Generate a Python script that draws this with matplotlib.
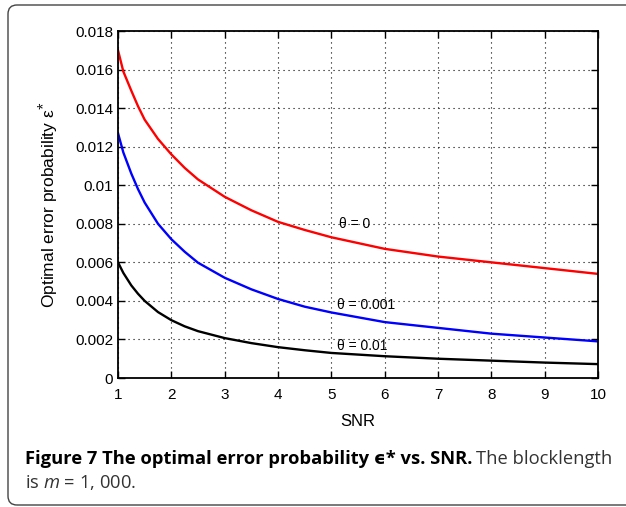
import matplotlib.pyplot as plt
from matplotlib.patches import FancyBboxPatch
from matplotlib.transforms import IdentityTransform

# values
snr = [1, 1.1, 1.25, 1.375, 1.5, 1.75, 2, 2.25, 2.5, 3, 3.5, 4, 4.5, 5, 6, 7, 8, 9, 10]
eps_theta0 = [0.0170, 0.0159, 0.0149, 0.0141, 0.0134, 0.0124, 0.0116, 0.0109,
              0.0103, 0.0094, 0.0087, 0.0081, 0.00768, 0.0073, 0.0067, 0.0063,
              0.0060, 0.0057, 0.0054]
eps_theta001 = [0.0127, 0.0117, 0.0106, 0.0098, 0.0091, 0.0080, 0.0072, 0.00655,
                0.00598, 0.0052, 0.0046, 0.0041, 0.0037, 0.0034, 0.0029, 0.0026,
                0.0023, 0.0021, 0.0019]
eps_theta01 = [0.0060, 0.00545, 0.0048, 0.00437, 0.0040, 0.00342, 0.0030, 0.00268,
               0.00243, 0.00207, 0.00181, 0.0016, 0.00144, 0.0013, 0.00113, 0.0010,
               0.0009, 0.0008, 0.00072]

series = [
    (eps_theta0, 'red', 'θ = 0', 5.15, 0.0080),
    (eps_theta001, 'blue', 'θ = 0.001', 5.10, 0.0038),
    (eps_theta01, 'black', 'θ = 0.01', 5.10, 0.00168),
]

xticks = list(range(1, 11))
yticks = [0, 0.002, 0.004, 0.006, 0.008, 0.01, 0.012, 0.014, 0.016, 0.018]
ytick_labels = ['0', '0.002', '0.004', '0.006', '0.008', '0.01', '0.012',
                '0.014', '0.016', '0.018']

plt.rcParams['font.family'] = ['Liberation Sans', 'DejaVu Sans']
plt.rcParams['mathtext.fontset'] = 'custom'
plt.rcParams['mathtext.rm'] = 'Open Sans'
plt.rcParams['mathtext.it'] = 'Open Sans:italic'

fig = plt.figure(figsize=(6.26, 5.07), dpi=100)
W, H = 626, 507
ax = fig.add_axes([118 / W, 1 - 378 / H, 480 / W, 347 / H])

for vals, color, label, tx, ty in series:
    ax.plot(snr, vals, color=color, linewidth=1.7, solid_joinstyle='round')
    ax.text(tx, ty, label, fontsize=10, va='center', ha='left')

ax.set_xlim(1, 10)
ax.set_ylim(0, 0.018)
ax.set_xticks(xticks)
ax.set_yticks(yticks)
ax.set_yticklabels(ytick_labels)
ax.grid(True, linestyle=(0, (1, 3.5)), color='black', linewidth=0.8)
ax.tick_params(direction='in', top=True, right=True, labelsize=11, length=5,
               width=1.0)
ax.tick_params(axis='x', pad=7)
for s in ax.spines.values():
    s.set_linewidth(1.3)

ax.set_xlabel('SNR', fontsize=12, labelpad=9)
ax.set_ylabel('Optimal error probability ε$^{*}$', fontsize=12.5, labelpad=10)

# rounded frame around figure + caption (pixel coords, origin bottom-left)
box = FancyBboxPatch((8, 2), 660, 500,
                     boxstyle='round,pad=0,rounding_size=9',
                     transform=IdentityTransform(), fill=False,
                     edgecolor='#444444', linewidth=1.0)
fig.patches.append(box)

cap_font = ['Open Sans', 'DejaVu Sans']
cap_size = 13.2
t1 = fig.text(25 / W, 1 - 464 / H,
              'Figure 7 The optimal error probability ϵ* vs. SNR.',
              fontsize=cap_size, fontweight='bold', family=cap_font,
              va='baseline')
fig.canvas.draw()
bb = t1.get_window_extent(renderer=fig.canvas.get_renderer())
fig.text(bb.x1 / W + 4 / W, 1 - 464 / H, 'The blocklength', fontsize=cap_size,
         family=cap_font, color='#333333', va='baseline', ha='left')
fig.text(25 / W, 1 - 488 / H, r'is $m$ = 1, 000.', fontsize=cap_size,
         family=cap_font, color='#333333', va='baseline')

fig.savefig('out.png', dpi=100)
